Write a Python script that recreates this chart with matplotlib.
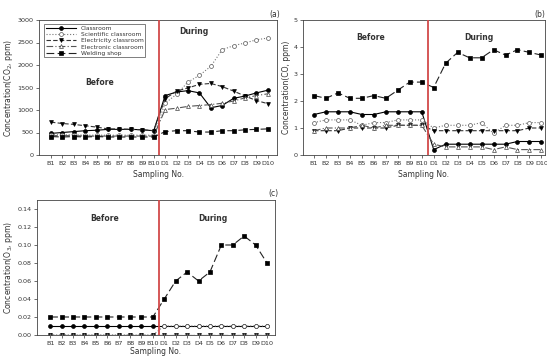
import matplotlib.pyplot as plt
import numpy as np

labels = ['B%d' % i for i in range(1, 11)] + ['D%d' % i for i in range(1, 11)]

# (a) CO2, ppm
co2_classroom = [480, 500, 520, 540, 550, 570, 570, 570, 560, 540,
                 1320, 1400, 1430, 1380, 1050, 1100, 1260, 1310, 1380, 1440]
co2_scientific = [450, 450, 450, 440, 440, 440, 440, 440, 440, 440,
                  1150, 1350, 1620, 1770, 1970, 2340, 2430, 2490, 2560, 2600]
co2_electricity = [730, 700, 680, 650, 620, 580, 580, 570, 560, 540,
                   1250, 1420, 1490, 1570, 1590, 1520, 1420, 1310, 1210, 1140]
co2_electronic = [430, 430, 430, 420, 420, 420, 420, 420, 420, 420,
                  1010, 1040, 1080, 1100, 1120, 1150, 1200, 1270, 1320, 1360]
co2_welding = [410, 400, 410, 400, 410, 400, 400, 400, 400, 400,
               520, 540, 540, 510, 510, 540, 540, 560, 570, 580]

# (b) CO, ppm
co_classroom = [1.5, 1.6, 1.6, 1.6, 1.5, 1.5, 1.6, 1.6, 1.6, 1.6,
                0.2, 0.4, 0.4, 0.4, 0.4, 0.4, 0.4, 0.5, 0.5, 0.5]
co_scientific = [1.2, 1.3, 1.3, 1.3, 1.1, 1.2, 1.2, 1.3, 1.3, 1.3,
                 1.0, 1.1, 1.1, 1.1, 1.2, 0.8, 1.1, 1.1, 1.2, 1.2]
co_electricity = [0.9, 0.9, 0.9, 1.0, 1.0, 1.0, 1.0, 1.1, 1.1, 1.1,
                  0.9, 0.9, 0.9, 0.9, 0.9, 0.9, 0.9, 0.9, 1.0, 1.0]
co_electronic = [0.9, 1.0, 1.0, 1.0, 1.1, 1.0, 1.1, 1.1, 1.1, 1.1,
                 0.4, 0.3, 0.3, 0.3, 0.3, 0.2, 0.3, 0.2, 0.2, 0.2]
co_welding = [2.2, 2.1, 2.3, 2.1, 2.1, 2.2, 2.1, 2.4, 2.7, 2.7,
              2.5, 3.4, 3.8, 3.6, 3.6, 3.9, 3.7, 3.9, 3.8, 3.7]

# (c) O3, ppm
o3_classroom = [0.01] * 20
o3_scientific = [0.0] * 10 + [0.01] * 10
o3_electricity = [0.0] * 20
o3_electronic = [0.0] * 20
o3_welding = [0.02] * 10 + [0.04, 0.06, 0.07, 0.06, 0.07, 0.10, 0.10, 0.11, 0.10, 0.08]

names = ['Classroom', 'Scientific classroom', 'Electricity classroom',
         'Electronic classroom', 'Welding shop']

styles = [
    dict(ls='-', marker='o', mfc='black', color='black'),
    dict(ls=':', marker='o', mfc='white', color='#777777', mec='#555555'),
    dict(ls=(0, (4, 2)), marker='v', mfc='black', color='#333333'),
    dict(ls=(0, (6, 2, 1, 2)), marker='^', mfc='white', color='#555555', mec='#444444'),
    dict(ls=(0, (7, 3)), marker='s', mfc='black', color='#222222'),
]

W, H = 547, 356
fig = plt.figure(figsize=(W / 100, H / 100), dpi=100)
x = np.arange(20)
tc = '#333333'


def make_ax(l, r, t, b, xlim, lpad=3):
    ax = fig.add_axes([l / W, 1 - b / H, (r - l) / W, (b - t) / H])
    ax.set_xlim(*xlim)
    ax.set_xticks(x)
    ax.set_xticklabels(labels)
    ax.tick_params(labelsize=4.6, length=2, width=0.5, colors=tc, pad=2)
    for s in ax.spines.values():
        s.set_linewidth(0.6)
        s.set_color('#444444')
    ax.axvline(9.5, color='#d24a4a', lw=1.3, zorder=5)
    ax.set_xlabel('Sampling No.', fontsize=5.5, color=tc, labelpad=lpad)
    return ax


def draw(ax, series):
    lines = []
    for vals, st, nm in zip(series, styles, names):
        ln, = ax.plot(x, vals, lw=0.8, ms=2.8, mew=0.5, label=nm,
                      mec=st.get('mec', 'black'),
                      **{k: v for k, v in st.items() if k != 'mec'})
        lines.append(ln)
    return lines


# (a)
ax1 = make_ax(39, 277, 20, 155, (-1.05, 19.8))
lines = draw(ax1, [co2_classroom, co2_scientific, co2_electricity, co2_electronic, co2_welding])
ax1.set_ylim(0, 3000)
ax1.set_yticks(range(0, 3001, 500))
ax1.set_ylabel('Concentration(CO$_2$, ppm)', fontsize=5.5, color=tc, labelpad=2)
ax1.text(4.3, 1550, 'Before', fontsize=5.5, weight='bold', ha='center', color=tc)
ax1.text(12.5, 2680, 'During', fontsize=5.5, weight='bold', ha='center', color=tc)
leg = ax1.legend(loc='upper left', fontsize=4.3, frameon=True, fancybox=False,
                 handlelength=5, borderpad=0.3, labelspacing=0.15,
                 bbox_to_anchor=(0.01, 0.99))
leg.get_frame().set_edgecolor('#444444')
leg.get_frame().set_linewidth(0.6)
for t in leg.get_texts():
    t.set_color(tc)
fig.text(275 / W, 1 - 15 / H, '(a)', fontsize=5.5, ha='center', va='center', color=tc)

# (b)
ax2 = make_ax(303, 545, 20, 155, (-0.92, 19.3))
draw(ax2, [co_classroom, co_scientific, co_electricity, co_electronic, co_welding])
ax2.set_ylim(0, 5)
ax2.set_yticks(range(0, 6))
ax2.set_ylabel('Concentration(CO, ppm)', fontsize=5.5, color=tc, labelpad=2)
ax2.text(4.75, 4.25, 'Before', fontsize=5.5, weight='bold', ha='center', color=tc)
ax2.text(13.8, 4.25, 'During', fontsize=5.5, weight='bold', ha='center', color=tc)
fig.text(540 / W, 1 - 15 / H, '(b)', fontsize=5.5, ha='center', va='center', color=tc)

# (c)
ax3 = make_ax(37, 275, 200, 335, (-1.15, 19.7), lpad=1)
draw(ax3, [o3_classroom, o3_scientific, o3_electricity, o3_electronic, o3_welding])
ax3.set_ylim(0, 0.15)
ax3.set_yticks(np.arange(0, 0.141, 0.02))
ax3.set_yticklabels(['%.2f' % v for v in np.arange(0, 0.141, 0.02)])
ax3.set_ylabel('Concentration(O$_3$, ppm)', fontsize=5.5, color=tc, labelpad=2)
ax3.text(4.8, 0.127, 'Before', fontsize=5.5, weight='bold', ha='center', color=tc)
ax3.text(14.3, 0.127, 'During', fontsize=5.5, weight='bold', ha='center', color=tc)
fig.text(273 / W, 1 - 193 / H, '(c)', fontsize=5.5, ha='center', va='center', color=tc)

fig.savefig('out.png', dpi=100)
